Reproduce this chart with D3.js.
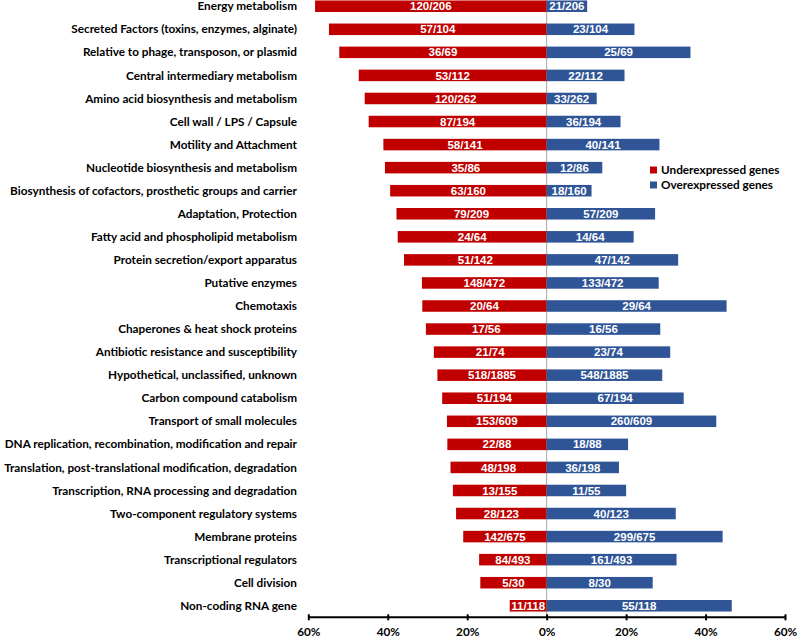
<!DOCTYPE html>
<html>
<head>
<meta charset="utf-8">
<script src="https://cdn.jsdelivr.net/npm/d3@7"></script>
<style>
  html, body { margin: 0; padding: 0; background: #fff; }
  svg { display: block; }
</style>
</head>
<body>
<svg id="chart" width="800" height="638"></svg>
<script>
const categories = [
  "Energy metabolism",
  "Secreted Factors (toxins, enzymes, alginate)",
  "Relative to phage, transposon, or plasmid",
  "Central intermediary metabolism",
  "Amino acid biosynthesis and metabolism",
  "Cell wall / LPS / Capsule",
  "Motility and Attachment",
  "Nucleotide biosynthesis and metabolism",
  "Biosynthesis of cofactors, prosthetic groups and carrier",
  "Adaptation, Protection",
  "Fatty acid and phospholipid metabolism",
  "Protein secretion/export apparatus",
  "Putative enzymes",
  "Chemotaxis",
  "Chaperones & heat shock proteins",
  "Antibiotic resistance and susceptibility",
  "Hypothetical, unclassified, unknown",
  "Carbon compound catabolism",
  "Transport of small molecules",
  "DNA replication, recombination, modification and repair",
  "Translation, post-translational modification, degradation",
  "Transcription, RNA processing and degradation",
  "Two-component regulatory systems",
  "Membrane proteins",
  "Transcriptional regulators",
  "Cell division",
  "Non-coding RNA gene"
];
// percent of genes, underexpressed (drawn to the left)
const underValues = [58.3, 54.8, 52.2, 47.3, 45.8, 44.8, 41.1, 40.7, 39.4, 37.8, 37.5, 35.9, 31.4, 31.3, 30.4, 28.4, 27.5, 26.3, 25.1, 25.0, 24.2, 23.6, 22.8, 21.0, 17.0, 16.7, 9.3];
const underLabels = ["120/206","57/104","36/69","53/112","120/262","87/194","58/141","35/86","63/160","79/209","24/64","51/142","148/472","20/64","17/56","21/74","518/1885","51/194","153/609","22/88","48/198","13/155","28/123","142/675","84/493","5/30","11/118"];
// percent of genes, overexpressed (drawn to the right)
const overValues = [10.2, 22.1, 36.2, 19.6, 12.6, 18.6, 28.4, 14.0, 11.3, 27.3, 21.9, 33.1, 28.2, 45.3, 28.6, 31.1, 29.1, 34.5, 42.7, 20.5, 18.2, 20.0, 32.5, 44.3, 32.7, 26.7, 46.6];
const overLabels = ["21/206","23/104","25/69","22/112","33/262","36/194","40/141","12/86","18/160","57/209","14/64","47/142","133/472","29/64","16/56","23/74","548/1885","67/194","260/609","18/88","36/198","11/55","40/123","299/675","161/493","8/30","55/118"];
const tickValues = [-60, -40, -20, 0, 20, 40, 60];
const seriesNames = ["Underexpressed genes", "Overexpressed genes"];
const seriesColors = ["#C00000", "#2F5597"];

const svg = d3.select("#chart");

const x = d3.scaleLinear().domain([-60, 60]).range([308.3, 785]);
const y = d3.scaleBand().domain(categories).range([-5.3, 617.3]).paddingInner(0.5).paddingOuter(0.25);

// font size for Calibri-like labels: fit longest label to reference width
const catFont = "Lato, 'Open Sans', sans-serif";
const probe = svg.append("text")
  .attr("font-family", catFont).attr("font-weight", "bold").attr("font-size", 12.5)
  .text("Biosynthesis of cofactors, prosthetic groups and carrier");
const probeW = probe.node().getComputedTextLength();
probe.remove();
const catSize = Math.min(12.5, 12.5 * 287 / probeW);

// zero line
svg.append("line")
  .attr("x1", x(0)).attr("x2", x(0))
  .attr("y1", 0).attr("y2", 617)
  .attr("stroke", "#A6A6A6").attr("stroke-width", 1);

const bw = y.bandwidth();

// under bars
svg.append("g").selectAll("rect").data(categories).join("rect")
  .attr("x", (d, i) => x(-underValues[i]))
  .attr("y", d => y(d))
  .attr("width", (d, i) => x(0) - x(-underValues[i]))
  .attr("height", bw)
  .attr("fill", seriesColors[0]);

// over bars
svg.append("g").selectAll("rect").data(categories).join("rect")
  .attr("x", x(0))
  .attr("y", d => y(d))
  .attr("width", (d, i) => x(overValues[i]) - x(0))
  .attr("height", bw)
  .attr("fill", seriesColors[1]);

// bar labels
const lblFont = "'Liberation Sans', Arial, sans-serif";
svg.append("g").selectAll("text").data(categories).join("text")
  .attr("x", (d, i) => (x(-underValues[i]) + x(0)) / 2)
  .attr("y", d => y(d) + bw / 2)
  .attr("dy", "0.36em")
  .attr("text-anchor", "middle")
  .attr("font-family", lblFont).attr("font-weight", "bold").attr("font-size", 11.5)
  .attr("fill", "#fff")
  .text((d, i) => underLabels[i]);

svg.append("g").selectAll("text").data(categories).join("text")
  .attr("x", (d, i) => (x(overValues[i]) + x(0)) / 2)
  .attr("y", d => y(d) + bw / 2)
  .attr("dy", "0.36em")
  .attr("text-anchor", "middle")
  .attr("font-family", lblFont).attr("font-weight", "bold").attr("font-size", 11.5)
  .attr("fill", "#fff")
  .text((d, i) => overLabels[i]);

// category labels
svg.append("g").selectAll("text").data(categories).join("text")
  .attr("x", 297)
  .attr("y", d => y(d) + bw / 2)
  .attr("dy", "0.35em")
  .attr("text-anchor", "end")
  .attr("font-family", catFont).attr("font-weight", "bold").attr("font-size", catSize)
  .attr("fill", "#000")
  .text(d => d);

// x axis
const xAxis = d3.axisBottom(x)
  .tickValues(tickValues)
  .tickSize(3)
  .tickFormat(d => Math.abs(d) + "%");
const ax = svg.append("g").attr("transform", "translate(0,617.3)").call(xAxis);
ax.select(".domain").attr("stroke", "#000").attr("stroke-width", 2)
  .attr("d", `M${x(-60)},0H${x(60)}`);
ax.selectAll(".tick line").attr("stroke", "#000").attr("stroke-width", 2).attr("y1", -3).attr("y2", 3);
ax.selectAll(".tick text")
  .attr("y", 10)
  .attr("font-family", catFont).attr("font-weight", "bold").attr("font-size", catSize)
  .attr("fill", "#000");

// legend
const legend = svg.append("g").attr("transform", "translate(650,170)");
seriesNames.forEach((name, i) => {
  const g = legend.append("g").attr("transform", `translate(0,${i * 15})`);
  g.append("rect").attr("x", 0).attr("y", -3.5).attr("width", 7).attr("height", 7).attr("fill", seriesColors[i]);
  g.append("text").attr("x", 11).attr("y", 0).attr("dy", "0.35em")
    .attr("font-family", catFont).attr("font-weight", "bold").attr("font-size", catSize)
    .attr("fill", "#000").text(name);
});
</script>
</body>
</html>
